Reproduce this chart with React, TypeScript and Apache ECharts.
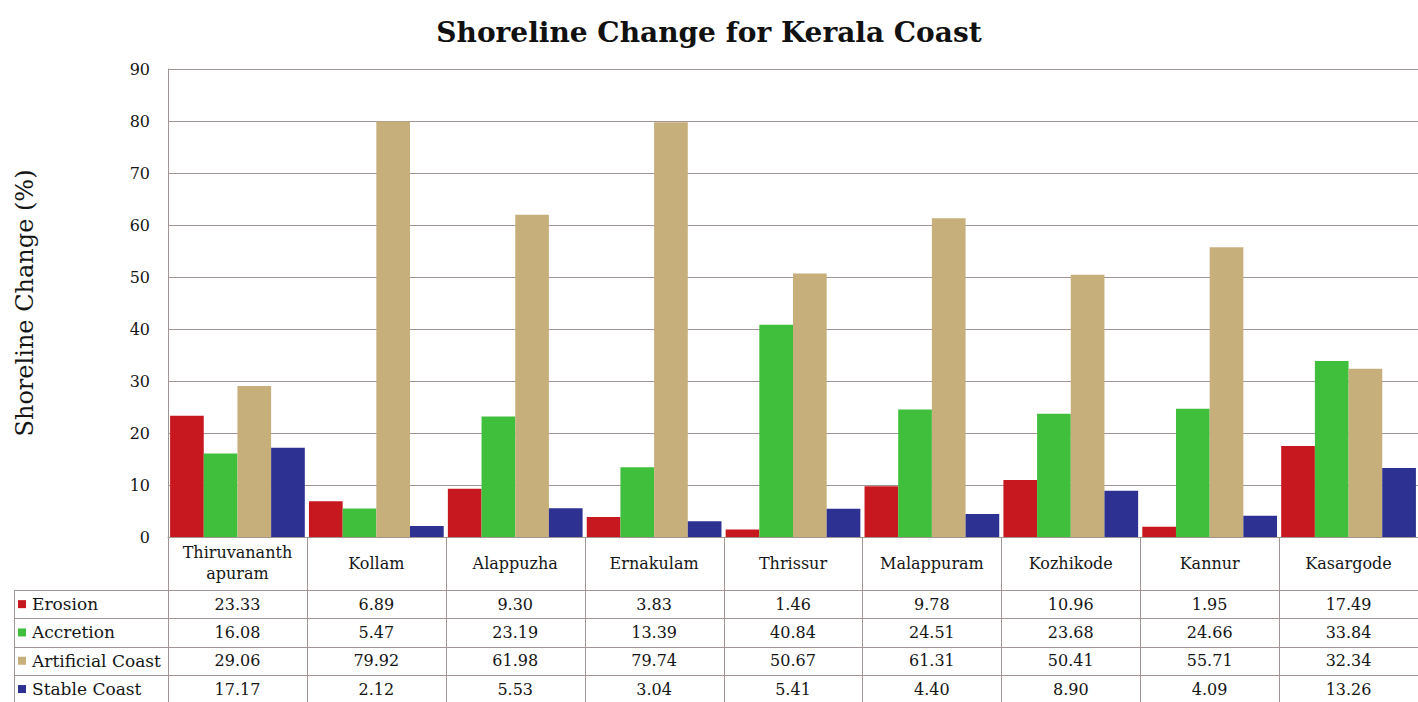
import React, { useEffect, useRef } from "react";
import * as echarts from "echarts";

const categories = [
  "Thiruvananth\napuram",
  "Kollam",
  "Alappuzha",
  "Ernakulam",
  "Thrissur",
  "Malappuram",
  "Kozhikode",
  "Kannur",
  "Kasargode",
];
const erosion = [23.33, 6.89, 9.3, 3.83, 1.46, 9.78, 10.96, 1.95, 17.49];
const accretion = [16.08, 5.47, 23.19, 13.39, 40.84, 24.51, 23.68, 24.66, 33.84];
const artificial = [29.06, 79.92, 61.98, 79.74, 50.67, 61.31, 50.41, 55.71, 32.34];
const stable = [17.17, 2.12, 5.53, 3.04, 5.41, 4.4, 8.9, 4.09, 13.26];
const seriesNames = ["Erosion", "Accretion", "Artificial Coast", "Stable Coast"];
const seriesColors = ["#C8181F", "#3FBF3C", "#C6AF7A", "#2C3192"];
const yTicks = [0, 10, 20, 30, 40, 50, 60, 70, 80, 90];

const FONT = "'DejaVu Serif', 'Liberation Serif', serif";
const LINE = "#A39494";
const TXT = "#151515";

export default function App() {
  const ref = useRef<HTMLDivElement>(null);
  useEffect(() => {
    document.body.style.margin = "0";
    const el = ref.current!;
    const chart = echarts.init(el, null, { renderer: "svg" });
    const allData = [erosion, accretion, artificial, stable];
    chart.setOption({
      animation: false,
      backgroundColor: "#ffffff",
      title: {
        text: "Shoreline Change for Kerala Coast",
        left: "center",
        top: 13,
        textStyle: { fontFamily: FONT, fontSize: 28, fontWeight: "bold", color: "#111" },
      },
      grid: { left: 168, right: 0, top: 69, bottom: 165 },
      xAxis: {
        type: "category",
        data: categories,
        axisLine: { show: true, lineStyle: { color: LINE, width: 1 } },
        axisTick: { show: false },
        axisLabel: {
          fontFamily: FONT,
          fontSize: 16,
          color: TXT,
          margin: 26,
          verticalAlign: "middle",
          lineHeight: 21,
          interval: 0,
        },
      },
      yAxis: {
        type: "value",
        min: yTicks[0],
        max: yTicks[yTicks.length - 1],
        interval: 10,
        name: "Shoreline Change (%)",
        nameLocation: "middle",
        nameRotate: 90,
        nameGap: 131,
        nameTextStyle: { fontFamily: FONT, fontSize: 24, color: TXT },
        axisLine: { show: true, lineStyle: { color: LINE, width: 1 } },
        axisTick: { show: false },
        splitLine: { show: true, lineStyle: { color: LINE, width: 1 } },
        axisLabel: { fontFamily: FONT, fontSize: 16, color: TXT, margin: 18 },
      },
      series: allData.map((d, i) => ({
        name: seriesNames[i],
        type: "bar",
        data: d,
        barGap: "0%",
        barCategoryGap: "3%",
        itemStyle: { color: seriesColors[i] },
      })),
    });

    // Data table under the plot, aligned with the category axis
    const c0 = chart.convertToPixel({ xAxisIndex: 0 }, 0) as number;
    const c1 = chart.convertToPixel({ xAxisIndex: 0 }, 1) as number;
    const cw = c1 - c0;
    const y0 = chart.convertToPixel({ yAxisIndex: 0 }, 0) as number;
    const headerBottom = y0 + 53;
    const rowH = 28.3;
    const tableLeft = 14;
    const H = el.clientHeight;
    const gridLeft = c0 - cw / 2;
    const gridRight = gridLeft + cw * categories.length;
    const g: any[] = [];
    for (let k = 0; k <= categories.length; k++) {
      const x = Math.round(gridLeft + k * cw) + 0.5;
      g.push({
        type: "line",
        shape: { x1: x, y1: y0, x2: x, y2: H },
        style: { stroke: LINE, lineWidth: 1 },
        silent: true,
      });
    }
    g.push({
      type: "line",
      shape: { x1: tableLeft + 0.5, y1: headerBottom, x2: tableLeft + 0.5, y2: H },
      style: { stroke: LINE, lineWidth: 1 },
      silent: true,
    });
    for (let r = 0; r <= seriesNames.length; r++) {
      const y = Math.round(headerBottom + r * rowH) + 0.5;
      g.push({
        type: "line",
        shape: { x1: tableLeft, y1: y, x2: gridRight, y2: y },
        style: { stroke: LINE, lineWidth: 1 },
        silent: true,
      });
    }
    seriesNames.forEach((name, r) => {
      const cy = headerBottom + r * rowH + rowH / 2;
      g.push({
        type: "rect",
        shape: { x: 18, y: cy - 4, width: 8, height: 8 },
        style: { fill: seriesColors[r] },
        silent: true,
      });
      g.push({
        type: "text",
        x: 32,
        y: cy,
        style: {
          text: name,
          fontFamily: FONT,
          fontSize: 17,
          fill: TXT,
          align: "left",
          verticalAlign: "middle",
        },
        silent: true,
      });
      allData[r].forEach((v, i) => {
        const cx = chart.convertToPixel({ xAxisIndex: 0 }, i) as number;
        g.push({
          type: "text",
          x: cx,
          y: cy,
          style: {
            text: v.toFixed(2),
            fontFamily: FONT,
            fontSize: 16,
            fill: TXT,
            align: "center",
            verticalAlign: "middle",
          },
          silent: true,
        });
      });
    });
    chart.setOption({ graphic: g });

    return () => chart.dispose();
  }, []);
  return <div ref={ref} style={{ width: 1418, height: 702 }} />;
}
